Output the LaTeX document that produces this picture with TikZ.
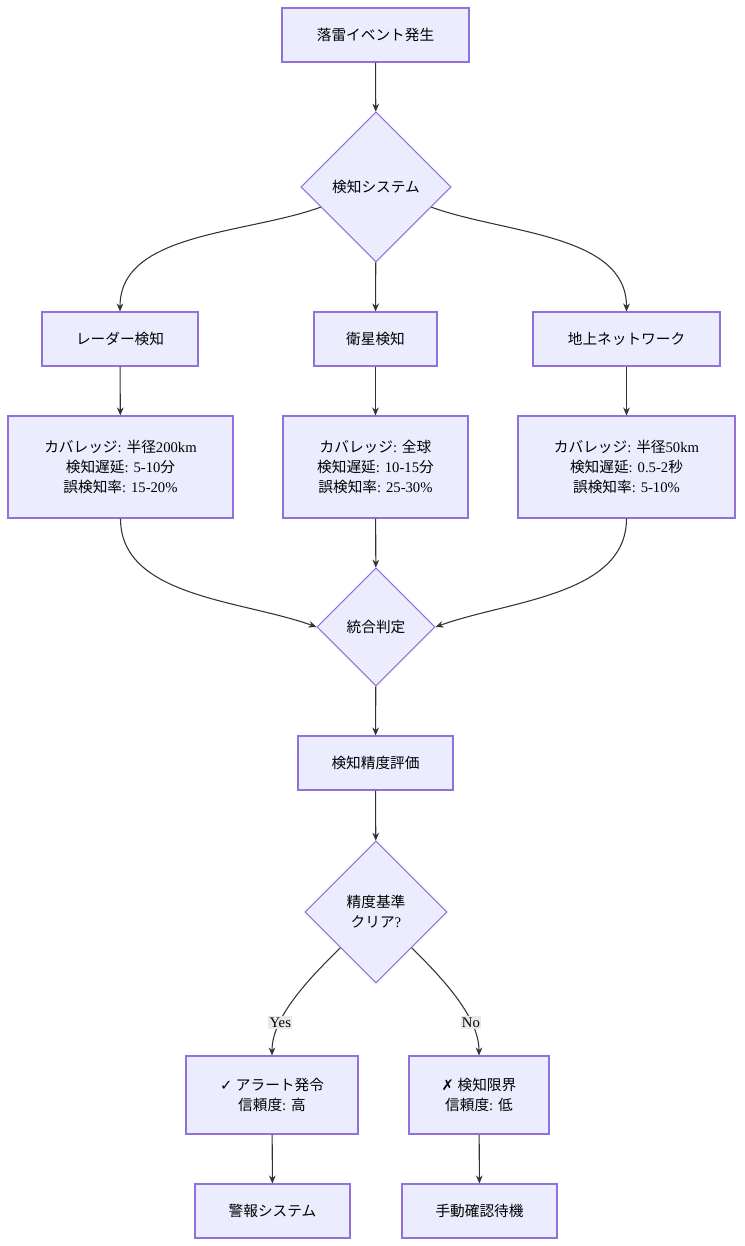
\documentclass[tikz,border=0pt]{standalone}
\usepackage{fontspec}
\setmainfont{Liberation Serif}
\newfontfamily\jp{Noto Sans CJK JP}
\newfontfamily\dv{DejaVu Sans}
\usetikzlibrary{shapes.geometric,arrows.meta}
\definecolor{nfill}{HTML}{ECECFF}
\definecolor{nline}{HTML}{9370DB}
\definecolor{eline}{HTML}{333333}
\begin{document}
\begin{tikzpicture}[x=0.75pt,y=-0.75pt,
  box/.style={draw=nline,fill=nfill,line width=0.8pt,rectangle,inner sep=0pt,align=center,font=\fontsize{11}{15}\selectfont},
  dia/.style={draw=nline,fill=nfill,line width=0.8pt,diamond,inner sep=0pt,align=center,font=\fontsize{11}{15}\selectfont},
  edge/.style={draw=eline,line width=0.8pt,-{Stealth[length=6pt,width=5pt]}},
  lab/.style={fill=black!9,inner sep=1pt,font=\fontsize{11}{13}\selectfont}]
\useasboundingbox[fill=white] (0,0) rectangle (744,1246);
\node[box,minimum width=140.25pt,minimum height=40.5pt] (a) at (375.5,35) {\jp 落雷イベント発生};
\node[dia,minimum width=112.5pt,minimum height=112.5pt] (b) at (376,187) {\jp 検知システム};
\node[box,minimum width=117pt,minimum height=40.5pt] (r) at (120,339) {\jp レーダー検知};
\node[box,minimum width=92.25pt,minimum height=40.5pt] (s) at (375.5,339) {\jp 衛星検知};
\node[box,minimum width=140.25pt,minimum height=40.5pt] (g) at (626.5,339) {\jp 地上ネットワーク};
\node[box,minimum width=168.75pt,minimum height=76.5pt] (ri) at (120.5,467) {{\jp カバレッジ}: {\jp 半径}200km\\{\jp 検知遅延}: 5-10{\jp 分}\\{\jp 誤検知率}: 15-20\%};
\node[box,minimum width=138.75pt,minimum height=76.5pt] (si) at (375.5,467) {{\jp カバレッジ}: {\jp 全球}\\{\jp 検知遅延}: 10-15{\jp 分}\\{\jp 誤検知率}: 25-30\%};
\node[box,minimum width=162.75pt,minimum height=76.5pt] (gi) at (626.5,467) {{\jp カバレッジ}: {\jp 半径}50km\\{\jp 検知遅延}: 0.5-2{\jp 秒}\\{\jp 誤検知率}: 5-10\%};
\node[dia,minimum width=88.5pt,minimum height=88.5pt] (c) at (376,627) {\jp 統合判定};
\node[box,minimum width=116.25pt,minimum height=40.5pt] (e) at (375.5,763) {\jp 検知精度評価};
\node[dia,minimum width=106.5pt,minimum height=106.5pt] (q) at (376,912) {{\jp 精度基準}\\{\jp クリア}?};
\node[box,minimum width=129pt,minimum height=58.5pt] (y) at (272,1095) {{\dv ✓} {\jp アラート発令}\\{\jp 信頼度}: {\jp 高}};
\node[box,minimum width=105pt,minimum height=58.5pt] (n) at (479,1095) {{\dv ✗} {\jp 検知限界}\\{\jp 信頼度}: {\jp 低}};
\node[box,minimum width=116.25pt,minimum height=40.5pt] (w) at (272.5,1211) {\jp 警報システム};
\node[box,minimum width=116.25pt,minimum height=40.5pt] (m) at (479.5,1211) {\jp 手動確認待機};
\draw[edge] (a) -- (b);
\draw[edge] (b) to[out=200,in=90,looseness=0.9] (r.north);
\draw[edge] (b) -- (s);
\draw[edge] (b) to[out=-20,in=90,looseness=0.9] (g.north);
\draw[edge] (r) -- (ri);
\draw[edge] (s) -- (si);
\draw[edge] (g) -- (gi);
\draw[edge] (ri.south) to[out=-90,in=160,looseness=0.9] (c.west);
\draw[edge] (si) -- (c);
\draw[edge] (gi.south) to[out=-90,in=20,looseness=0.9] (c.east);
\draw[edge] (c) -- (e);
\draw[edge] (e) -- (q);
\draw[edge] (q) to[out=225,in=90,looseness=0.8] node[lab,pos=0.72] {Yes} (y.north);
\draw[edge] (q) to[out=-45,in=90,looseness=0.8] node[lab,pos=0.72] {No} (n.north);
\draw[edge] (y) -- (w);
\draw[edge] (n) -- (m);
\end{tikzpicture}
\end{document}
